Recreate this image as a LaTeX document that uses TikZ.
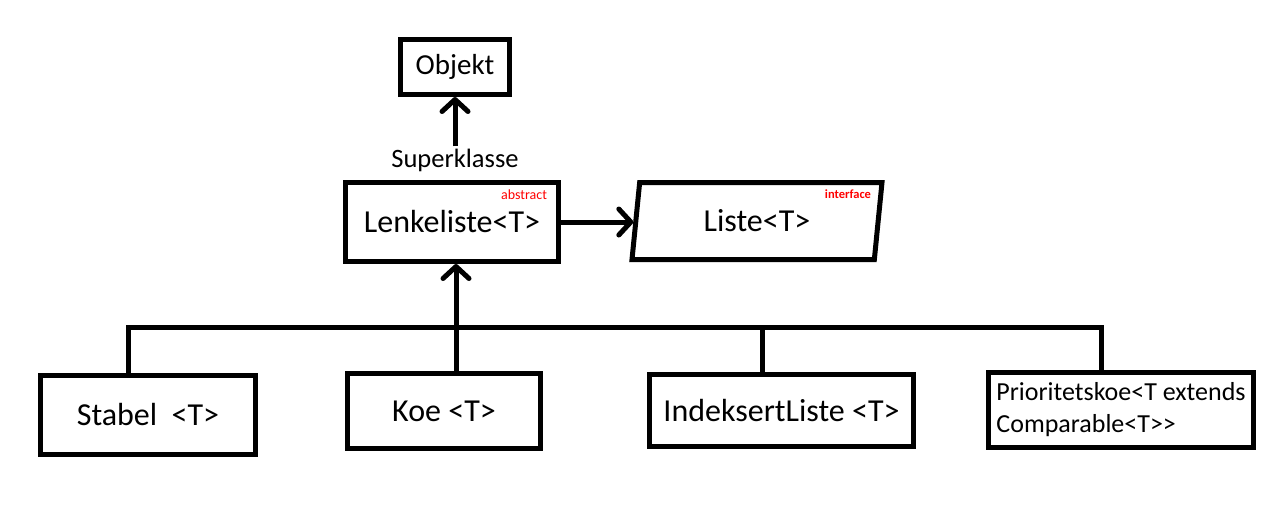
\documentclass[tikz,border=0pt]{standalone}
\usepackage{fontspec}
\setmainfont{Carlito}
\usetikzlibrary{arrows.meta,shapes.geometric}
\tikzset{
  klasse/.style={draw, line width=5pt, inner sep=0pt, font=\fontsize{32}{38}\selectfont},
  linje/.style={line width=5pt},
  arv/.style={line width=5pt, -{Straight Barb[length=12pt,width=26pt,round]}},
  merke/.style={text=red, inner sep=0pt},
}
\begin{document}
\begin{tikzpicture}[x=1pt,y=1pt,yscale=-1,xscale=1]
        \useasboundingbox (0,0) rectangle (1283,506);

        % Objekt and superklasse
        \node[klasse, minimum width=109pt, minimum height=55pt, font=\fontsize{29}{35}\selectfont] (objekt) at (455,67) {Objekt};
        \node[inner sep=2pt, font=\fontsize{26.5}{32}\selectfont] (superklasse) at (455,160) {Superklasse};
        \draw[arv] (superklasse.north) -- (objekt.south);

        % Lenkeliste and Liste
        \node[klasse, minimum width=213pt, minimum height=79pt] (lenkeliste) at (452,222) {Lenkeliste<T>};
        \node[merke, font=\fontsize{14}{16}\selectfont] (abstract) at (524,195) {abstract};
        \node[klasse, trapezium, trapezium left angle=71, trapezium right angle=109, trapezium stretches body,
              minimum width=250pt, minimum height=77pt] (liste) at (757,221) {Liste<T>};
        \node[merke, font=\fontsize{12.5}{14}\selectfont\bfseries] (interface) at (848,194) {interface};
        \draw[arv] (lenkeliste.east) -- (lenkeliste.east -| liste.west);

        % Subklasser
        \node[klasse, minimum width=215pt, minimum height=79pt] (stabel) at (148,415) {Stabel\ \ <T>};
        \node[klasse, minimum width=193pt, minimum height=75pt] (koe) at (444,411) {Koe <T>};
        \node[klasse, minimum width=264pt, minimum height=72pt] (indeksert) at (781.5,410.5) {IndeksertListe <T>};
        \node[klasse, align=left, minimum width=265pt, minimum height=75pt,
              font=\fontsize{26}{32}\selectfont] (prioritetskoe) at (1121,410) {Prioritetskoe<T extends\\Comparable<T>{}>};

        % Linjer
        \coordinate (venstre) at (128,327);
        \coordinate (stamme) at (456,327);
        \coordinate (midt) at (762,327);
        \coordinate (hoyre) at (1101,327);
        \draw[linje] (stabel.north -| venstre) -- (venstre) -- (hoyre) -- (prioritetskoe.north -| hoyre);
        \draw[linje] (indeksert.north -| midt) -- (midt);
        \draw[arv] (koe.north -| stamme) -- (lenkeliste.south -| stamme);

\end{tikzpicture}
\end{document}
